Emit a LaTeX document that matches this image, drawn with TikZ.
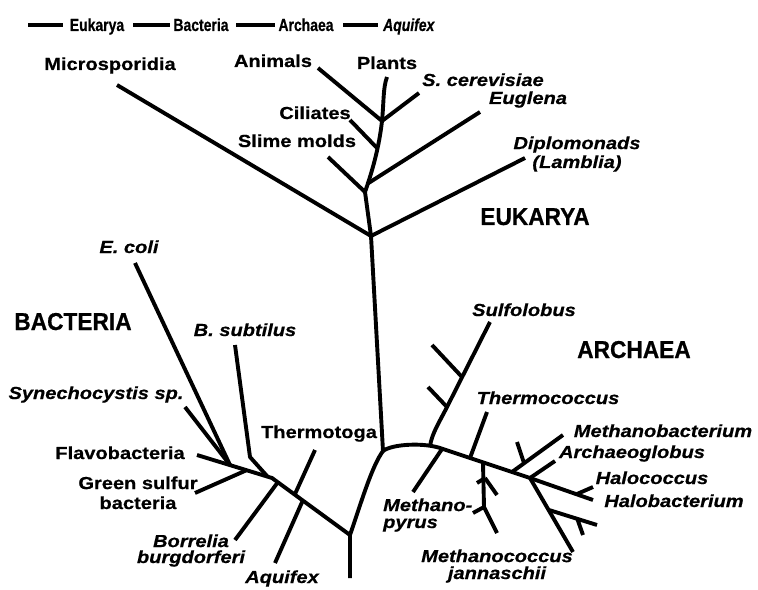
\documentclass[tikz,border=0pt]{standalone}
\usepackage{fontspec}
\setmainfont{Liberation Sans}
\newfontfamily\labelfont{Liberation Sans}[FakeStretch=1.15, FakeBold=0.6]
\newfontfamily\keyfont{Liberation Sans}[FakeStretch=0.8, FakeBold=0.6]
\newfontfamily\domainfont{Liberation Sans}[FakeStretch=0.93, FakeBold=0.6]
\usepackage{tikz}

\tikzset{
  branch/.style={line width=3.9bp, line join=round},
  taxon/.style={font=\labelfont\fontsize{17.5}{17}\selectfont\bfseries, inner sep=0pt, anchor=base, align=center},
  species/.style={taxon, font=\labelfont\fontsize{17.5}{17}\selectfont\bfseries\itshape},
  domainname/.style={font=\domainfont\fontsize{24.5}{26}\selectfont\bfseries, inner sep=0pt, anchor=base},
  keyname/.style={font=\keyfont\fontsize{17.5}{18}\selectfont\bfseries, inner sep=0pt, anchor=base},
}

\begin{document}
\begin{tikzpicture}[x=1bp, y=-1bp]
  \useasboundingbox (0,0) rectangle (758,590);

  % Legend
  \foreach \xa/\xb/\xt/\lab in {28/63/97/Eukarya, 133/170/201/Bacteria, 236/275/306/Archaea, 343/378/409/\textit{Aquifex}} {
    \draw[branch] (\xa,25) -- (\xb,25);
    \node[keyname] (key\xa) at (\xt,31) {\lab};
  }

  % Junctions and tips
  \coordinate (root) at (383,451);
  \coordinate (euBase) at (371,236);
  \coordinate (euMid) at (365,192);
  \coordinate (eugJ) at (367,184);
  \coordinate (ciliJ) at (377,148);
  \coordinate (crown) at (382,121);
  \coordinate (microTip) at (117,85);
  \coordinate (diploTip) at (525,158);
  \coordinate (slimeTip) at (328,157);
  \coordinate (eugTip) at (480,112);
  \coordinate (ciliTip) at (350,120);
  \coordinate (animTip) at (318,68);
  \coordinate (yeastTip) at (419,93);
  \coordinate (plantTip) at (387,77);

  \coordinate (arcA) at (443,449);
  \coordinate (haloJ) at (530,478);
  \coordinate (halobTip) at (593,500);
  \coordinate (sulfJ) at (430,446);
  \coordinate (sulfK) at (447,407);
  \coordinate (sulfS) at (462,377);
  \coordinate (sulfTip) at (490,322);
  \coordinate (sulfA) at (432,345);
  \coordinate (sulfB) at (428,387);
  \coordinate (mpJ) at (442,449);
  \coordinate (mpTip) at (413,492);
  \coordinate (tcJ) at (470,458);
  \coordinate (tcTip) at (487,412);
  \coordinate (mcJ) at (483,463);
  \coordinate (mcA) at (485,478);
  \coordinate (mcK) at (484,507);
  \coordinate (mcTip) at (497,533);
  \coordinate (mbJ) at (512,472);
  \coordinate (mbS) at (524,463);
  \coordinate (mbTip) at (563,435);
  \coordinate (agTip) at (555,461);
  \coordinate (hcJ) at (577,494);
  \coordinate (hcTip) at (593,487);
  \coordinate (lowJ) at (549,510);
  \coordinate (lowK) at (577,518);
  \coordinate (lowTip) at (573,552);

  \coordinate (bacRoot) at (350,535);
  \coordinate (bacStub) at (350,578);
  \coordinate (bend) at (272,478);
  \coordinate (flavoTip) at (197,455);
  \coordinate (ttJ) at (295,494);
  \coordinate (ttTip) at (315,450);
  \coordinate (aqJ) at (303,500);
  \coordinate (aqTip) at (275,563);
  \coordinate (bbJ) at (278,482);
  \coordinate (bbTip) at (235,540);
  \coordinate (bsJ) at (267,476);
  \coordinate (bsK) at (250,457);
  \coordinate (bsTip) at (235,345);
  \coordinate (gsJ) at (247,470);
  \coordinate (gsTip) at (195,493);
  \coordinate (ecJ) at (230,465);
  \coordinate (ecTip) at (135,263);
  \coordinate (synTip) at (185,407);

  % Eukarya
  \draw[branch] (root) -- (euBase) -- (euMid) .. controls (372,172) and (379,148) .. (crown) .. controls (384,100) and (383,88) .. (plantTip);
  \draw[branch] (euBase) -- (microTip);
  \draw[branch] (euBase) -- (diploTip);
  \draw[branch] (euMid) -- (slimeTip);
  \draw[branch] (eugJ) -- (eugTip);
  \draw[branch] (ciliJ) -- (ciliTip);
  \draw[branch] (crown) -- (animTip);
  \draw[branch] (crown) -- (yeastTip);

  % Archaea
  \draw[branch] (root) .. controls (392,444) and (425,442) .. (arcA) -- (haloJ) -- (halobTip);
  \draw[branch] (sulfJ) .. controls (432,433) and (440,421) .. (sulfK) -- (sulfTip);
  \draw[branch] (sulfS) -- (sulfA);
  \draw[branch] (sulfK) -- (sulfB);
  \draw[branch] (mpJ) -- (mpTip);
  \draw[branch] (tcJ) -- (tcTip);
  \draw[branch] (mcJ) -- (mcK) -- (mcTip);
  \draw[branch] (mcA) -- (477,483);
  \draw[branch] (mcA) -- (497,495);
  \draw[branch] (mcK) -- (473,513);
  \draw[branch] (mbJ) -- (mbTip);
  \draw[branch] (mbS) -- (517,442);
  \draw[branch] (haloJ) -- (agTip);
  \draw[branch] (hcJ) -- (hcTip);
  \draw[branch] (haloJ) -- (lowTip);
  \draw[branch] (lowJ) -- (597,525);
  \draw[branch] (lowK) -- (583,535);

  % Bacteria
  \draw[branch] (root) .. controls (372,466) and (362,500) .. (bacRoot) -- (bacStub);
  \draw[branch] (bacRoot) -- (bend) -- (flavoTip);
  \draw[branch] (ttJ) -- (ttTip);
  \draw[branch] (aqJ) -- (aqTip);
  \draw[branch] (bbJ) -- (bbTip);
  \draw[branch] (bsJ) -- (bsK) -- (bsTip);
  \draw[branch] (gsJ) -- (gsTip);
  \draw[branch] (ecJ) -- (ecTip);
  \draw[branch] (ecJ) -- (synTip);

  % Labels (multi-line nodes sit on their last baseline)
  \node[taxon] (micro) at (110,70) {Microsporidia};
  \node[taxon] (anim) at (273,67) {Animals};
  \node[taxon] (plant) at (387,69) {Plants};
  \node[species] (yeast) at (483,86) {S. cerevisiae};
  \node[species] (eug) at (528,104) {Euglena};
  \node[taxon] (cili) at (315,119) {Ciliates};
  \node[taxon] (slime) at (297,147) {Slime molds};
  \node[species] (diplo) at (577,168) {Diplomonads\\[2bp](Lamblia)};
  \node[domainname] (euk) at (535,225) {EUKARYA};

  \node[species] (ecoli) at (129,253) {E. coli};
  \node[domainname] (bac) at (73,330) {BACTERIA};
  \node[species] (bsub) at (245,336) {B. subtilus};
  \node[species] (syn) at (96,399) {Synechocystis sp.};
  \node[taxon] (ttoga) at (319,438) {Thermotoga};
  \node[taxon] (flavo) at (120,459) {Flavobacteria};
  \node[taxon] (gsulf) at (138,509) {Green sulfur\\[3bp]bacteria};
  \node[species] (borr) at (191,563) {Borrelia\\[-1bp]burgdorferi};
  \node[species] (aquif) at (282,583) {Aquifex};

  \node[species] (sulf) at (524,316) {Sulfolobus};
  \node[domainname] (arc) at (634,358) {ARCHAEA};
  \node[species] (tcoc) at (548,404) {Thermococcus};
  \node[species] (mbac) at (663,437) {Methanobacterium};
  \node[species] (aglob) at (632,458) {Archaeoglobus};
  \node[species] (hcoc) at (652,484) {Halococcus};
  \node[species] (hbac) at (674,507) {Halobacterium};
  \node[species, anchor=base west, align=left] (mpyr) at (383,528) {Methano-\\pyrus};
  \node[species] (mcoc) at (497,579) {Methanococcus\\jannaschii};
\end{tikzpicture}
\end{document}
